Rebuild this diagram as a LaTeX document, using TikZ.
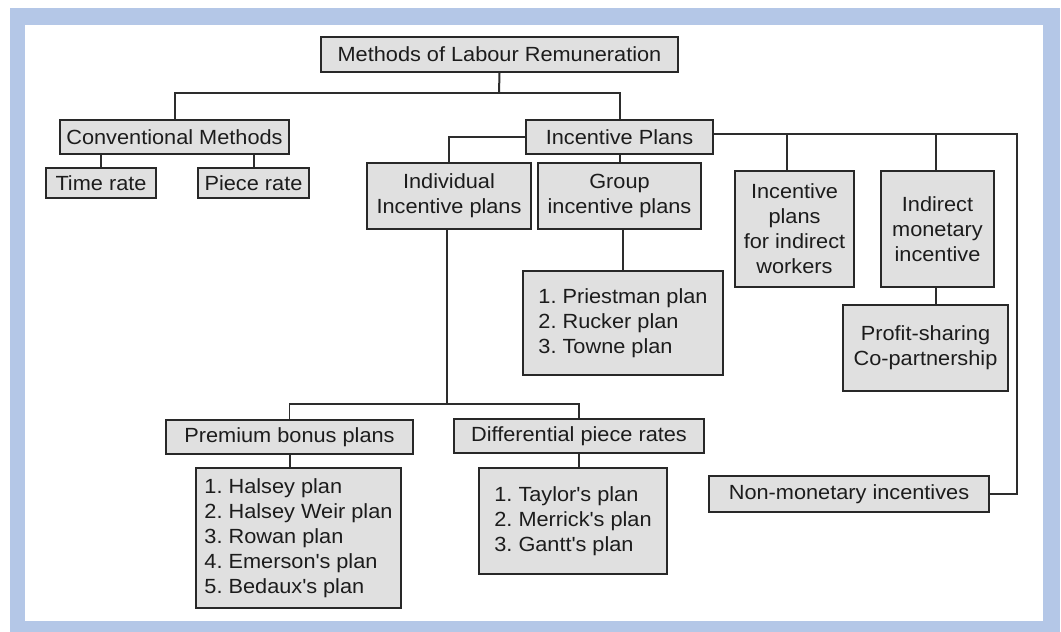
\documentclass[tikz,border=0pt]{standalone}
\usepackage{fontspec}
\setmainfont{Liberation Sans}[FakeStretch=1.06]
\frenchspacing
\definecolor{framec}{RGB}{180,199,231}
\definecolor{boxfill}{RGB}{224,224,224}
\definecolor{boxline}{RGB}{40,40,40}
\definecolor{linkc}{RGB}{45,45,45}
\definecolor{ink}{RGB}{28,28,28}
\newcommand{\ap}{\textquotesingle}
\begin{document}
\begin{tikzpicture}[x=1pt,y=-1pt,
  box/.style={draw=boxline, fill=boxfill, line width=2pt, inner sep=0pt,
              font=\fontsize{20.5}{25}\selectfont, text=ink, align=center},
  listbox/.style={box, align=left},
  link/.style={draw=linkc, line width=2pt},
  thinlink/.style={draw=linkc, line width=1.2pt}]
\useasboundingbox (0,0) rectangle (1061,632);
% page frame
\fill[framec] (10,8) rectangle (1060,632);
\fill[white] (25,25) rectangle (1043,621);

% nodes
\node[box, minimum width=357pt, minimum height=35pt] (root) at (499.5,54.5) {Methods of Labour Remuneration};
\node[box, minimum width=229pt, minimum height=34pt] (conv) at (174.5,137) {Conventional Methods};
\node[box, minimum width=110pt, minimum height=30pt] (time) at (101,183) {Time rate};
\node[box, minimum width=111pt, minimum height=30pt] (piece) at (253.5,183) {Piece rate};
\node[box, minimum width=187pt, minimum height=34pt] (incent) at (619.5,137) {Incentive Plans};
\node[box, minimum width=164pt, minimum height=66pt] (indiv) at (449,196) {Individual\\Incentive plans};
\node[box, minimum width=163pt, minimum height=66pt] (group) at (619.5,196) {Group\\incentive plans};
\node[box, minimum width=119pt, minimum height=116pt] (indwork) at (794.5,229) {Incentive\\plans\\for indirect\\workers};
\node[box, minimum width=113pt, minimum height=116pt] (indmon) at (937.5,229) {Indirect\\monetary\\incentive};
\node[box, minimum width=165pt, minimum height=86pt] (profit) at (925.5,348) {Profit-sharing\\Co-partnership};
\node[listbox, minimum width=200pt, minimum height=104pt] (priest) at (623,323) {1. Priestman plan\\2. Rucker plan\\3. Towne plan};
\node[box, minimum width=247pt, minimum height=34pt] (premium) at (289.5,437) {Premium bonus plans};
\node[box, minimum width=250pt, minimum height=34pt] (diff) at (579,436) {Differential piece rates};
\node[listbox, minimum width=205pt, minimum height=140pt] (halsey) at (298.5,538) {1. Halsey plan\\2. Halsey Weir plan\\3. Rowan plan\\4. Emerson\ap s plan\\5. Bedaux\ap s plan};
\node[listbox, minimum width=188pt, minimum height=106pt] (taylor) at (573,521) {1. Taylor\ap s plan\\2. Merrick\ap s plan\\3. Gantt\ap s plan};
\node[box, minimum width=280pt, minimum height=36pt] (nonmon) at (849,494) {Non-monetary incentives};

% junction points
\coordinate (bus1) at (499,93);
\coordinate (rbus) at (1017,134);
\coordinate (tapA) at (787,134);
\coordinate (tapB) at (936,134);
\coordinate (bus3) at (447,404);

% connectors
\draw[link] (root.south) -- (bus1);
\draw[link] (conv.north) |- (bus1) -| (incent.north);
\draw[link] (time.north) -- (time.north |- conv.south);
\draw[link] (piece.north) -- (piece.north |- conv.south);
\draw[link] (incent.west) -| (indiv.north);
\draw[link] (incent.south) -- (group.north);
\draw[link] (group.south -| priest.north) -- (priest.north);
\draw[thinlink] (incent.east |- rbus) -- (rbus) |- (nonmon.east);
\draw[thinlink] (tapA) -- (tapA |- indwork.north);
\draw[thinlink] (tapB) -- (tapB |- indmon.north);
\draw[thinlink] (indmon.south -| tapB) -- (tapB |- profit.north);
\draw[link] (indiv.south -| bus3) -- (bus3);
\draw[thinlink] (premium.north) |- (bus3) -| (diff.north);
\draw[link] (premium.south) -- (premium.south |- halsey.north);
\draw[link] (diff.south) -- (diff.south |- taylor.north);
\end{tikzpicture}
\end{document}
